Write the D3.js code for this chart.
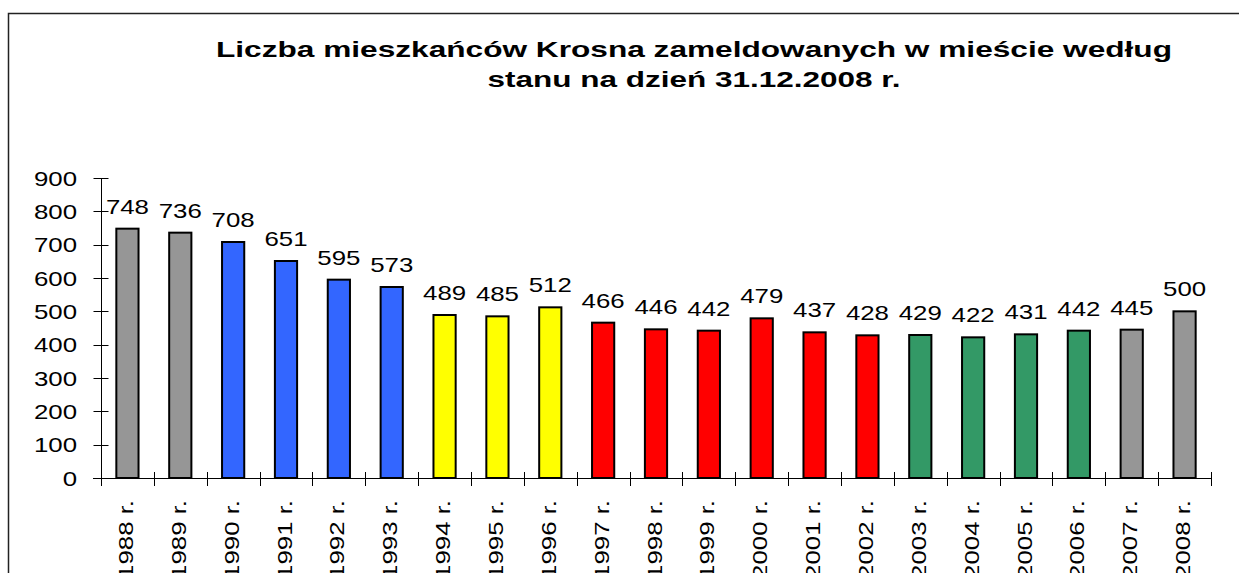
<!DOCTYPE html>
<html>
<head>
<meta charset="utf-8">
<script src="https://cdn.jsdelivr.net/npm/d3@7"></script>
<style>
  html, body { margin: 0; padding: 0; background: #fff; }
  svg { display: block; font-family: Arial, "Liberation Sans", sans-serif; }
</style>
</head>
<body>
<div id="chart"></div>
<script>
// data
const years = ["1988", "1989", "1990", "1991", "1992", "1993", "1994", "1995", "1996", "1997", "1998",
               "1999", "2000", "2001", "2002", "2003", "2004", "2005", "2006", "2007", "2008"];
const values = [748, 736, 708, 651, 595, 573, 489, 485, 512, 466, 446,
                442, 479, 437, 428, 429, 422, 431, 442, 445, 500];
// colour group of each year (periods)
const groups = ["a", "a", "b", "b", "b", "b", "c", "c", "c", "d", "d",
                "d", "d", "d", "d", "e", "e", "e", "e", "a", "a"];
const yTicks = [0, 100, 200, 300, 400, 500, 600, 700, 800, 900];
const titleLines = ["Liczba mieszkańców Krosna zameldowanych w mieście według",
                    "stanu na dzień 31.12.2008 r."];

const width = 1239, height = 573;
const fs = 21, sx = 1.23;   // glyphs in the original are drawn wide

const svg = d3.select("#chart").append("svg")
  .attr("width", width)
  .attr("height", height);

// frame (only top and left edges visible)
svg.append("path")
  .attr("d", "M8.5,573 V13.5 H1239")
  .attr("fill", "none")
  .attr("stroke", "#222")
  .attr("stroke-width", 1.5);

// title
const titleLen = [956, 413];
svg.selectAll(".title")
  .data(titleLines)
  .join("text")
  .attr("class", "title")
  .attr("x", (d, i) => 694 - titleLen[i] / 2)
  .attr("y", (d, i) => 57 + i * 30)
  .attr("textLength", (d, i) => titleLen[i])
  .attr("lengthAdjust", "spacingAndGlyphs")
  .attr("font-size", 22)
  .attr("font-weight", "bold")
  .attr("fill", "#000")
  .text(d => d);

const x0 = 101, x1 = 1211, yBase = 478, yTop = 178;

const xStep = d3.scaleBand().domain(years).range([x0, x1]).padding(0);
const x = d3.scaleBand().domain(years).range([x0, x1])
  .paddingInner(0.58).paddingOuter(0.29);
const y = d3.scaleLinear().domain([0, 900]).range([yBase, yTop]);

const color = d3.scaleOrdinal()
  .domain(["a", "b", "c", "d", "e"])
  .range(["#969696", "#3366ff", "#ffff00", "#ff0000", "#339966"]);

// bars
svg.selectAll(".bar")
  .data(values)
  .join("rect")
  .attr("class", "bar")
  .attr("x", (d, i) => x(years[i]))
  .attr("y", d => y(d))
  .attr("width", x.bandwidth())
  .attr("height", d => yBase - y(d))
  .attr("fill", (d, i) => color(groups[i]))
  .attr("stroke", "#000")
  .attr("stroke-width", 2);

// y axis
const ga = svg.append("g").attr("stroke", "#000").attr("stroke-width", 1);
ga.append("line")
  .attr("x1", x0 + 0.5).attr("x2", x0 + 0.5)
  .attr("y1", y(900)).attr("y2", yBase + 8);
ga.selectAll(".ytick")
  .data(yTicks)
  .join("line")
  .attr("x1", x0 - 7.5).attr("x2", x0 + 7.5)
  .attr("y1", d => Math.round(y(d)) + 0.5)
  .attr("y2", d => Math.round(y(d)) + 0.5);

// x axis
ga.append("line")
  .attr("x1", x0 - 8).attr("x2", x1 + 1)
  .attr("y1", yBase + 0.5).attr("y2", yBase + 0.5);
ga.selectAll(".xtick")
  .data(years.slice(1).concat(["end"]))
  .join("line")
  .attr("x1", (d, i) => Math.round(xStep(years[i]) + xStep.step()) + 0.5)
  .attr("x2", (d, i) => Math.round(xStep(years[i]) + xStep.step()) + 0.5)
  .attr("y1", yBase - 6)
  .attr("y2", yBase + 8);

// y tick labels
svg.selectAll(".ylab")
  .data(yTicks)
  .join("text")
  .attr("class", "ylab")
  .attr("transform", d => `translate(77,${y(d)}) scale(${sx},1)`)
  .attr("dy", "0.36em")
  .attr("text-anchor", "end")
  .attr("font-size", fs)
  .attr("fill", "#000")
  .text(d => d);

// value labels
svg.selectAll(".vlab")
  .data(values)
  .join("text")
  .attr("class", "vlab")
  .attr("transform", (d, i) => `translate(${x(years[i]) + x.bandwidth() / 2},${y(d) - 15}) scale(${sx},1)`)
  .attr("text-anchor", "middle")
  .attr("font-size", fs)
  .attr("fill", "#000")
  .text(d => d);

// category labels, rotated
svg.selectAll(".xlab")
  .data(years)
  .join("text")
  .attr("class", "xlab")
  .attr("transform", d => `translate(${xStep(d) + xStep.step() / 2 - 2},500) rotate(-90) scale(${sx},1)`)
  .attr("dy", "0.36em")
  .attr("text-anchor", "end")
  .attr("font-size", fs)
  .attr("fill", "#000")
  .text(d => d + " r.");
</script>
</body>
</html>
